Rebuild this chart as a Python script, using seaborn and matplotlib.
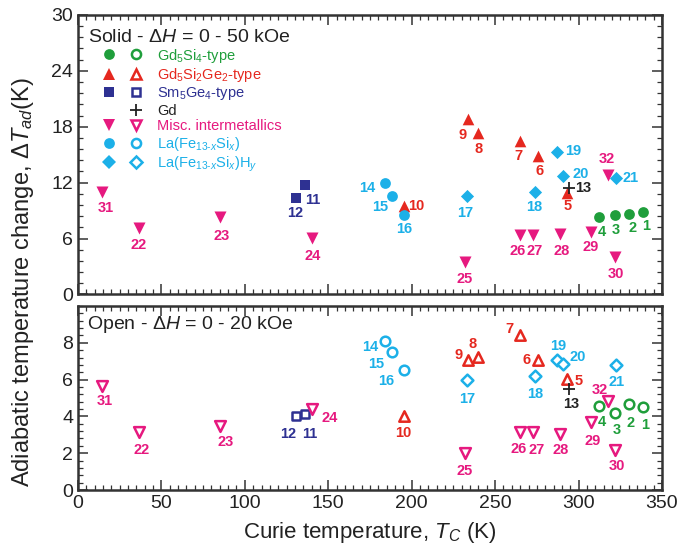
import numpy as np
import pandas as pd
import matplotlib
matplotlib.use("Agg")
import matplotlib.pyplot as plt
import seaborn as sns
from matplotlib.lines import Line2D
from matplotlib.legend_handler import HandlerTuple
from matplotlib.ticker import MultipleLocator

# ---- data -------------------------------------------------------------
compound_id = list(range(1, 33))
family = (["Gd5Si4"] * 4 + ["Gd5Si2Ge2"] * 6 + ["Sm5Ge4"] * 2 + ["Gd"]
          + ["LaFeSi"] * 3 + ["LaFeSiH"] * 5 + ["Misc"] * 11)
curie_temp = [338.5, 330.3, 321.6, 312.3, 293.0, 275.8, 264.9, 240.0, 233.8, 195.2,
              136.0, 130.4, 294.0, 183.8, 188.0, 195.1, 233.0, 273.6, 287.0, 290.7,
              322.6, 36.4, 85.3, 140.5, 232.0, 265.0, 272.6, 288.8, 307.4, 321.6,
              14.1, 317.6]
dt_solid = [8.9, 8.6, 8.5, 8.3, 10.9, 14.9, 16.45, 17.3, 18.8, 9.5,
            11.7, 10.4, 11.4, 12.0, 10.6, 8.5, 10.55, 10.95, 15.3, 12.7,
            12.5, 7.1, 8.3, 6.1, 3.5, 6.4, 6.4, 6.45, 6.7, 4.05,
            11.0, 12.8]
dt_open = [4.51, 4.69, 4.18, 4.58, 6.05, 7.04, 8.44, 7.24, 7.04, 4.05,
           4.13, 4.0, 5.49, 8.09, 7.5, 6.5, 6.0, 6.18, 7.09, 6.87,
           6.78, 3.16, 3.49, 4.4, 2.0, 3.18, 3.18, 3.05, 3.69, 2.18,
           5.64, 4.82]

family_order = ["Gd5Si4", "Gd5Si2Ge2", "Sm5Ge4", "Gd", "Misc", "LaFeSi", "LaFeSiH"]
family_labels = ["Gd$_5$Si$_4$-type", "Gd$_5$Si$_2$Ge$_2$-type", "Sm$_5$Ge$_4$-type",
                 "Gd", "Misc. intermetallics", "La(Fe$_{13\\text{-}x}$Si$_x$)",
                 "La(Fe$_{13\\text{-}x}$Si$_x$)H$_y$"]

df = pd.DataFrame({"id": compound_id, "family": family, "Tc": curie_temp,
                   "solid": dt_solid, "open": dt_open})

# ---- styling ----------------------------------------------------------
style = {
    "Gd5Si4":    dict(marker="o", color="#1f9e3b", s=60),
    "Gd5Si2Ge2": dict(marker="^", color="#e5281f", s=70),
    "Sm5Ge4":    dict(marker="s", color="#2e3192", s=50),
    "Gd":        dict(marker="+", color="#222222", s=70),
    "Misc":      dict(marker="v", color="#e6197f", s=75),
    "LaFeSi":    dict(marker="o", color="#1cb0e8", s=60),
    "LaFeSiH":   dict(marker="D", color="#1cb0e8", s=45),
}

# label offsets in pixels (dx right, dy down)
off_solid = {1: (3, 14), 2: (3, 14), 3: (1, 15), 4: (3, 15), 5: (1, 13), 6: (1, 15),
             7: (-2, 15), 8: (0, 16), 9: (-6, 16), 10: (13, 0), 11: (8, 15), 12: (0, 15),
             13: (15, 0), 14: (-17, 5), 15: (-11, 11), 16: (1, 14), 17: (-2, 17),
             18: (0, 15), 19: (16, -1), 20: (18, -2), 21: (14, 0), 22: (0, 17),
             23: (1, 19), 24: (0, 18), 25: (0, 17), 26: (-3, 16), 27: (2, 16),
             28: (2, 17), 29: (0, 15), 30: (1, 17), 31: (4, 16), 32: (-1, -16)}
off_open = {1: (2, 18), 2: (1, 19), 3: (2, 17), 4: (3, 16), 5: (12, 2), 6: (-12, 0),
            7: (-11, -6), 8: (-6, -13), 9: (-10, -5), 10: (0, 17), 11: (5, 20),
            12: (-7, 18), 13: (3, 15), 14: (-14, 6), 15: (-15, 12), 16: (-17, 11),
            17: (0, 19), 18: (1, 18), 19: (1, -14), 20: (15, -7), 21: (0, 17),
            22: (3, 18), 23: (5, 16), 24: (17, 9), 25: (0, 18), 26: (-2, 17),
            27: (4, 18), 28: (1, 16), 29: (2, 19), 30: (2, 16), 31: (3, 15),
            32: (-8, -11)}

sns.set_style("ticks")
plt.rcParams["font.family"] = ["Liberation Sans", "DejaVu Sans"]
plt.rcParams["mathtext.fontset"] = "custom"
plt.rcParams["mathtext.rm"] = "Liberation Sans"
plt.rcParams["mathtext.it"] = "Liberation Sans:italic"
plt.rcParams["mathtext.bf"] = "Liberation Sans:bold"

spine_col = "#333333"
text_col = "#222222"

fig = plt.figure(figsize=(6.81, 5.53), dpi=100)
ax_top = fig.add_axes([0.1145, 0.4675, 0.8576, 0.5055])
ax_bot = fig.add_axes([0.1145, 0.1139, 0.8576, 0.3327])


def draw_panel(ax, column, filled, offsets):
    for fam in family_order:
        sub = df[df["family"] == fam]
        st = style[fam]
        sns.scatterplot(data=sub, x="Tc", y=column, ax=ax, marker=st["marker"],
                        color=st["color"], s=st["s"], legend=False, zorder=3,
                        linewidth=0 if st["marker"] != "+" else 1.3)
        coll = ax.collections[-1]
        if st["marker"] == "+":
            coll.set_edgecolor(st["color"])
            coll.set_linewidth(1.3)
        elif not filled:
            coll.set_facecolor("white")
            coll.set_edgecolor(st["color"])
            coll.set_linewidth(1.8)
            coll.set_sizes([st["s"] * 0.8])
        for _, row in sub.iterrows():
            dx, dy = offsets[row["id"]]
            ax.annotate(str(row["id"]), (row["Tc"], row[column]), xytext=(dx, -dy),
                        textcoords="offset pixels", ha="center", va="center",
                        fontsize=10.5, fontweight="bold", color=st["color"], zorder=4)


draw_panel(ax_top, "solid", True, off_solid)
draw_panel(ax_bot, "open", False, off_open)

for ax in (ax_top, ax_bot):
    ax.set_xlim(0, 350)
    ax.xaxis.set_major_locator(MultipleLocator(50))
    ax.xaxis.set_minor_locator(MultipleLocator(5))
    ax.tick_params(which="both", direction="in", top=True, right=True,
                   color=spine_col, labelsize=14, labelcolor=text_col)
    ax.tick_params(which="major", length=7, width=1.1)
    ax.tick_params(which="minor", length=3.5, width=0.9)
    for sp in ax.spines.values():
        sp.set_linewidth(1.8)
        sp.set_color(spine_col)
    ax.set_ylabel("")
    ax.set_xlabel("")

ax_top.set_ylim(0, 30)
ax_top.yaxis.set_major_locator(MultipleLocator(6))
ax_top.yaxis.set_minor_locator(MultipleLocator(1.2))
ax_top.tick_params(labelbottom=False)

ax_bot.set_ylim(0, 10)
ax_bot.set_yticks([0, 2, 4, 6, 8])
ax_bot.yaxis.set_minor_locator(MultipleLocator(0.4))

ax_top.text(0.017, 0.92, r"Solid - $\Delta H$ = 0 - 50 kOe", transform=ax_top.transAxes,
            fontsize=14, color=text_col, ha="left", va="center")
ax_bot.text(0.015, 0.897, r"Open - $\Delta H$ = 0 - 20 kOe", transform=ax_bot.transAxes,
            fontsize=14, color=text_col, ha="left", va="center")

ax_bot.set_xlabel(r"Curie temperature, $T_C$ (K)", fontsize=16, color=text_col, labelpad=6)
fig.text(0.034, 0.489, r"Adiabatic temperature change, $\Delta T_{ad}$(K)", rotation=90,
         ha="center", va="center", fontsize=17, color=text_col)

# legend: filled (solid) and open markers side by side
handles = []
for fam in family_order:
    st = style[fam]
    if fam == "Gd":
        blank = Line2D([], [], linestyle="none", marker="")
        plus = Line2D([], [], linestyle="none", marker="+", color=st["color"],
                      markersize=9, markeredgewidth=1.3)
        handles.append((blank, plus))
        continue
    ms = np.sqrt(st["s"])
    full = Line2D([], [], linestyle="none", marker=st["marker"], color=st["color"],
                  markersize=ms, markeredgewidth=0)
    hollow = Line2D([], [], linestyle="none", marker=st["marker"], markerfacecolor="white",
                    markeredgecolor=st["color"], markersize=ms * 0.85, markeredgewidth=1.8)
    handles.append((full, hollow))

leg = ax_top.legend(handles, family_labels, loc="upper left", bbox_to_anchor=(0.035, 0.887),
                    frameon=False, fontsize=10.5, handlelength=3.3, handletextpad=0.75,
                    labelspacing=0.1, borderpad=0, borderaxespad=0,
                    handler_map={tuple: HandlerTuple(ndivide=None, pad=0.4)})
for txt, fam in zip(leg.get_texts(), family_order):
    txt.set_color(style[fam]["color"])

fig.savefig("out.png", dpi=100)
